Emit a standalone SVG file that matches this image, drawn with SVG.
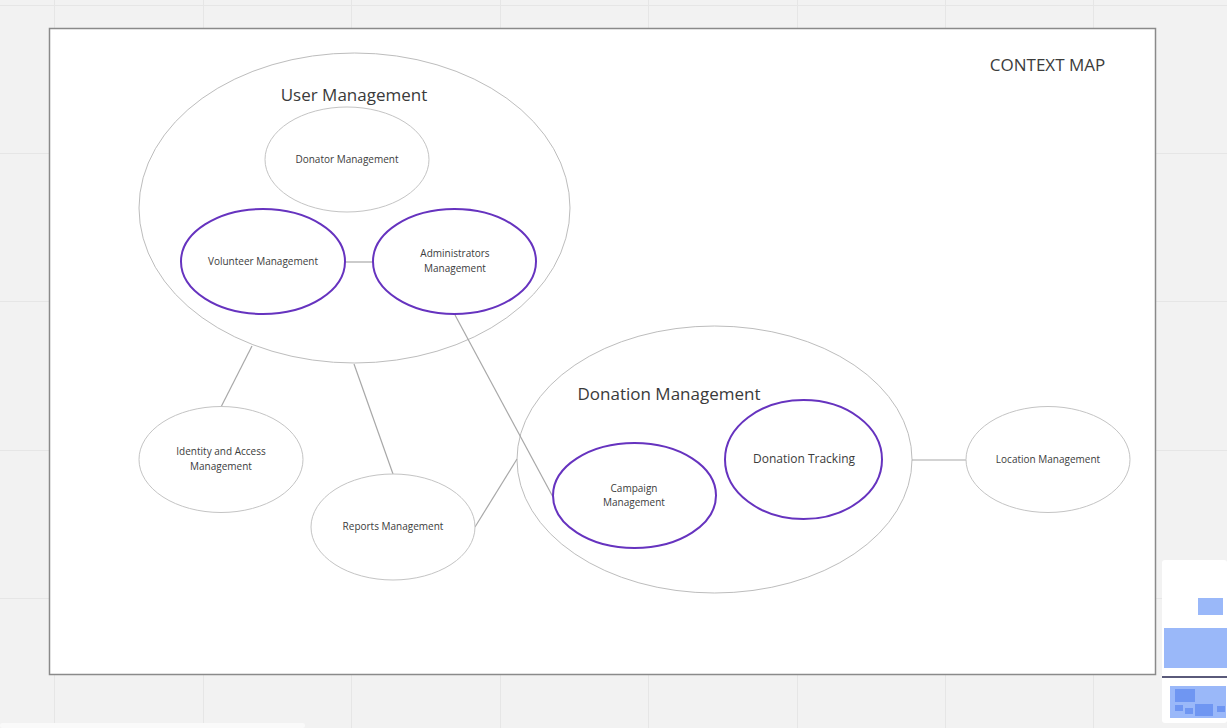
<svg xmlns="http://www.w3.org/2000/svg" width="1227" height="728" viewBox="0 0 1227 728">
<style>
.grid{stroke:#e6e6e6;stroke-width:1;fill:none}
.ctx{fill:#fff;stroke:#bdbdbd;stroke-width:1}
.sub{fill:#fff;stroke:#c4c4c4;stroke-width:1}
.core{fill:#fff;stroke:#6633bf;stroke-width:2}
.conn line{stroke:#a8a8a8;stroke-width:1.2}
text{font-family:"Open Sans","Noto Sans","Liberation Sans",sans-serif;fill:#3c3c3c;text-anchor:middle}
.big{font-size:17px;fill:#3a3a3a}
.sm{font-size:10px}
.md{font-size:12px}
.mini{fill:#9ab8f9}
.minid{fill:#6f96f2}
</style>
<rect x="0" y="0" width="1227" height="728" fill="#f2f2f2"/>
<g class="grid">
<line x1="54.5" y1="0" x2="54.5" y2="728"/>
<line x1="203.5" y1="0" x2="203.5" y2="728"/>
<line x1="351.5" y1="0" x2="351.5" y2="728"/>
<line x1="500.5" y1="0" x2="500.5" y2="728"/>
<line x1="648.5" y1="0" x2="648.5" y2="728"/>
<line x1="797.5" y1="0" x2="797.5" y2="728"/>
<line x1="945.5" y1="0" x2="945.5" y2="728"/>
<line x1="1093.5" y1="0" x2="1093.5" y2="728"/>
<line x1="0" y1="5.5" x2="1227" y2="5.5"/>
<line x1="0" y1="153.5" x2="1227" y2="153.5"/>
<line x1="0" y1="301.5" x2="1227" y2="301.5"/>
<line x1="0" y1="450.5" x2="1227" y2="450.5"/>
<line x1="0" y1="598.5" x2="1227" y2="598.5"/>
</g>
<rect x="49.5" y="28.5" width="1106" height="646" fill="#fff" stroke="#8a8a8a" stroke-width="1.5"/>
<text x="1047.5" y="71" style="font-size:17px">CONTEXT MAP</text>

<g id="user-management">
<ellipse class="ctx" cx="354.5" cy="208" rx="215.5" ry="155"/>
<text class="big" x="354" y="101">User Management</text>
</g>
<g id="donation-management">
<ellipse class="ctx" cx="714.5" cy="459.5" rx="197.5" ry="133.5"/>
<text class="big" x="669" y="400">Donation Management</text>
</g>

<g class="conn" id="connectors">
<line x1="345" y1="262" x2="373" y2="262"/>
<line x1="252" y1="346" x2="221" y2="407"/>
<line x1="354" y1="364" x2="393" y2="474"/>
<line x1="455" y1="315" x2="553" y2="497"/>
<line x1="475" y1="527" x2="517" y2="459"/>
<line x1="912" y1="460" x2="966" y2="460"/>
</g>

<g id="donator-management">
<ellipse class="sub" cx="347" cy="159.5" rx="82" ry="52.5"/>
<text class="sm" x="347" y="163">Donator Management</text>
</g>
<g id="volunteer-management">
<ellipse class="core" cx="263" cy="261.5" rx="82" ry="52.5"/>
<text class="sm" x="263" y="265">Volunteer Management</text>
</g>
<g id="administrators-management">
<ellipse class="core" cx="454.5" cy="261.5" rx="81.5" ry="52.5"/>
<text class="sm" x="455" y="257">Administrators</text>
<text class="sm" x="455" y="272">Management</text>
</g>
<g id="identity-access-management">
<ellipse class="sub" cx="221" cy="459.5" rx="82" ry="53"/>
<text class="sm" x="221" y="455">Identity and Access</text>
<text class="sm" x="221" y="470">Management</text>
</g>
<g id="reports-management">
<ellipse class="sub" cx="393" cy="527" rx="82" ry="53"/>
<text class="sm" x="393" y="530">Reports Management</text>
</g>
<g id="campaign-management">
<ellipse class="core" cx="634.5" cy="495.5" rx="81.5" ry="52.5"/>
<text class="sm" x="634" y="492">Campaign</text>
<text class="sm" x="634" y="506">Management</text>
</g>
<g id="donation-tracking">
<ellipse class="core" cx="803.5" cy="459.5" rx="78.5" ry="59.5"/>
<text class="md" x="804" y="463">Donation Tracking</text>
</g>
<g id="location-management">
<ellipse class="sub" cx="1048" cy="459.5" rx="82" ry="53"/>
<text class="sm" x="1048" y="463">Location Management</text>
</g>

<g id="minimap">
<rect x="1162" y="560" width="65" height="163" rx="3" fill="#fff"/>
<rect class="mini" x="1198" y="598" width="25" height="17"/>
<rect class="mini" x="1164" y="628" width="63" height="40"/>
<rect x="1162" y="676" width="65" height="2" fill="#5a5a7a"/>
<rect class="mini" x="1170" y="686" width="56" height="32"/>
<rect class="minid" x="1175" y="689" width="20" height="13"/>
<rect class="minid" x="1175" y="705" width="8" height="6"/>
<rect class="minid" x="1185" y="708" width="8" height="6"/>
<rect class="minid" x="1195" y="704" width="18" height="12"/>
<rect class="minid" x="1217" y="706" width="8" height="6"/>
<rect x="0" y="723" width="305" height="5" rx="2" fill="#fafafa"/>
</g>
</svg>
